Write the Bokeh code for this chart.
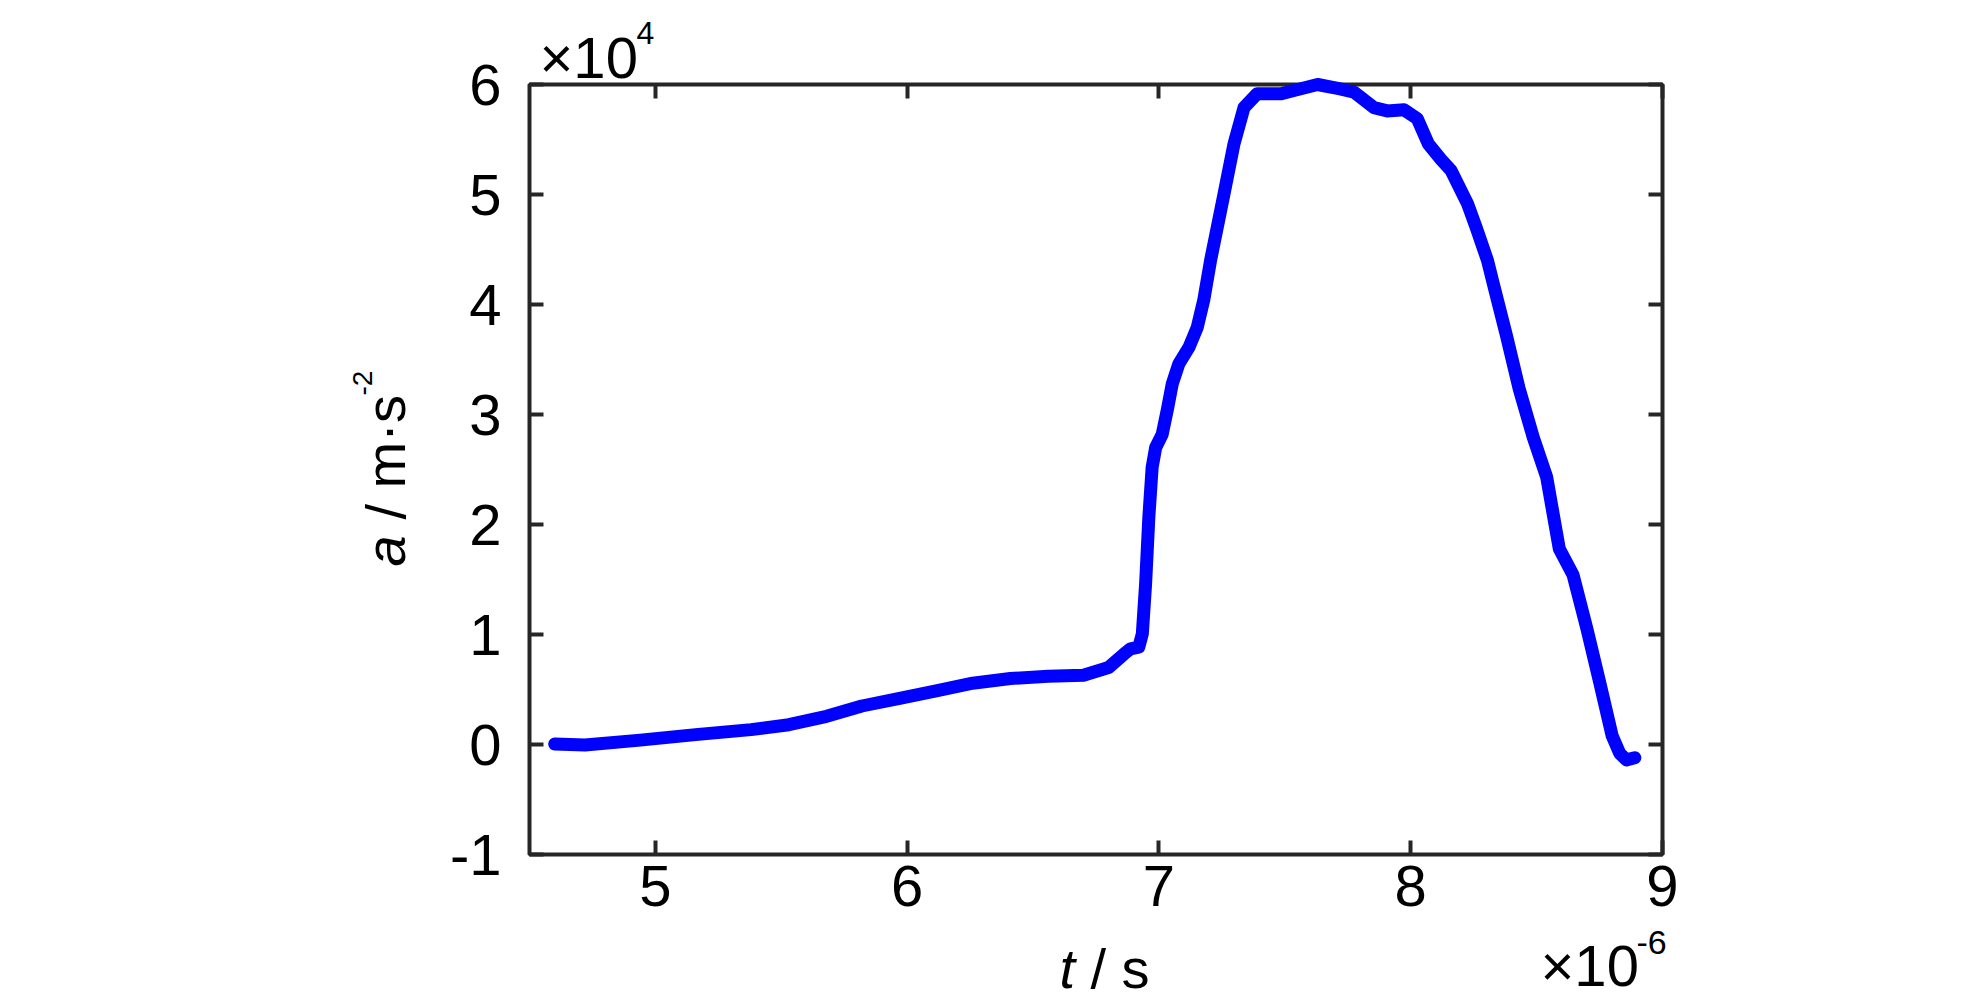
from bokeh.plotting import figure
from bokeh.models import Range1d, FixedTicker, LinearAxis, Label, BoxAnnotation, CustomJSTickFormatter
from bokeh.embed import file_html
from bokeh.resources import INLINE
import math

# ---- data (t in units of 1e-6 s, a in units of 1e4 m/s^2) ----
t_us = [4.60, 4.72, 4.94, 5.16, 5.38, 5.53, 5.68, 5.82, 5.97, 6.12, 6.26, 6.41, 6.56,
        6.70, 6.80, 6.86, 6.887, 6.92, 6.934, 6.947, 6.96, 6.973, 6.987, 7.013, 7.033,
        7.053, 7.079, 7.119, 7.152, 7.178, 7.205, 7.258, 7.298, 7.338, 7.39, 7.483,
        7.536, 7.63, 7.72, 7.775, 7.854, 7.907, 7.973, 8.026, 8.07, 8.12, 8.16, 8.225,
        8.26, 8.305, 8.33, 8.38, 8.43, 8.487, 8.54, 8.59, 8.645, 8.70, 8.75, 8.80,
        8.83, 8.857, 8.89]
a_1e4 = [0.005, -0.005, 0.04, 0.09, 0.135, 0.18, 0.256, 0.35, 0.42, 0.49, 0.557, 0.60,
         0.62, 0.63, 0.70, 0.82, 0.87, 0.885, 1.006, 1.46, 2.07, 2.52, 2.70, 2.82, 3.04,
         3.28, 3.46, 3.61, 3.79, 4.04, 4.4, 5.0, 5.46, 5.79, 5.915, 5.915, 5.945, 6.0,
         5.96, 5.93, 5.79, 5.76, 5.77, 5.69, 5.46, 5.32, 5.22, 4.92, 4.70, 4.4, 4.17,
         3.72, 3.24, 2.79, 2.43, 1.78, 1.54, 1.05, 0.57, 0.08, -0.08, -0.14, -0.12]

x_ticks = [5, 6, 7, 8, 9]
y_ticks = [-1, 0, 1, 2, 3, 4, 5, 6]
x_lim = (4.5, 9.0)
y_lim = (-1.0, 6.0)

FONT = "Liberation Sans"
AX = "#262626"
TICK_FS = "58px"
LAB_F = 56

# layout (canvas pixels): the axes box occupies [BL, BL+BW] x [BT, BT+BH]
W, H = 1984, 1004
BL, BT, BW, BH = 529, 84, 1133, 770
ppx = BW / (x_lim[1] - x_lim[0])   # pixels per x unit
ppy = BH / (y_lim[1] - y_lim[0])   # pixels per y unit

xr = Range1d(x_lim[0] - BL / ppx, x_lim[0] + (W - BL) / ppx)
yr = Range1d(y_lim[1] - (H - BT) / ppy, y_lim[1] + BT / ppy)

p = figure(width=W, height=H, x_range=xr, y_range=yr,
           min_border=0, min_border_left=0, min_border_right=0,
           min_border_top=0, min_border_bottom=0,
           output_backend="svg", toolbar_location=None,
           x_axis_location=None, y_axis_location=None)
p.grid.visible = False
p.outline_line_color = None
p.background_fill_color = "white"
p.border_fill_color = "white"

# axes box
p.add_layout(BoxAnnotation(left=x_lim[0], right=x_lim[1], bottom=y_lim[0], top=y_lim[1],
                           fill_color=None, fill_alpha=0, line_color=AX, line_alpha=1.0,
                           line_width=4, level="underlay"))

def make_axis(ticks, loc, show_labels, standoff):
    ax = LinearAxis(fixed_location=loc, ticker=FixedTicker(ticks=ticks))
    ax.major_tick_in = 14
    ax.major_tick_out = 0
    ax.minor_tick_line_color = None
    ax.major_tick_line_color = AX
    ax.major_tick_line_width = 4
    ax.axis_line_color = None
    ax.major_label_text_font = FONT
    ax.major_label_text_font_size = TICK_FS
    ax.major_label_text_color = "black"
    ax.major_label_standoff = standoff
    ax.formatter = CustomJSTickFormatter(code="return String(tick);")
    if not show_labels:
        ax.major_label_text_color = None
    return ax

p.add_layout(make_axis(x_ticks, y_lim[0], True, 11), "below")
p.add_layout(make_axis(x_ticks, y_lim[1], False, 0), "above")
p.add_layout(make_axis(y_ticks, x_lim[0], True, 28), "left")
p.add_layout(make_axis(y_ticks, x_lim[1], False, 0), "right")

p.line(t_us, a_1e4, line_color="#0000FF", line_width=13, line_join="round", line_cap="round")

# helpers: canvas pixel -> data coordinates (for text annotations)
def dx(px):
    return x_lim[0] + (px - BL) / ppx

def dy(py):
    return y_lim[1] - (py - BT) / ppy

BASE_FIX = 0.31  # em shift so that the glyph baseline lands on the wanted pixel

def lab(px, py, text, size, style="normal", angle=0.0):
    if angle == 0.0:
        py = py - BASE_FIX * size
    else:
        px = px - BASE_FIX * size
    p.add_layout(Label(x=dx(px), y=dy(py), text=text, text_font=FONT,
                       text_font_size=f"{size}px", text_font_style=style,
                       text_color="black", text_align="left",
                       text_baseline="alphabetic", angle=angle))

# exponent labels (start x, baseline y)
lab(539, 75, "×10", 58)
lab(636, 42, "4", 32)
lab(1540, 983, "×10", 58)
lab(1636, 953, "-6", 34)

# x label: t / s
lab(1059, 985, "t", LAB_F, "italic")
lab(1090, 985, "/ s", LAB_F)

# y label: a / m·s^-2 (rotated, reading upwards)
rot = math.pi / 2
lab(402, 566, "a", LAB_F, "italic", rot)
lab(402, 519, "/ m·s", LAB_F, "normal", rot)
lab(371, 395, "-2", 28, "normal", rot)

open("out.html", "w").write(file_html(p, INLINE))
